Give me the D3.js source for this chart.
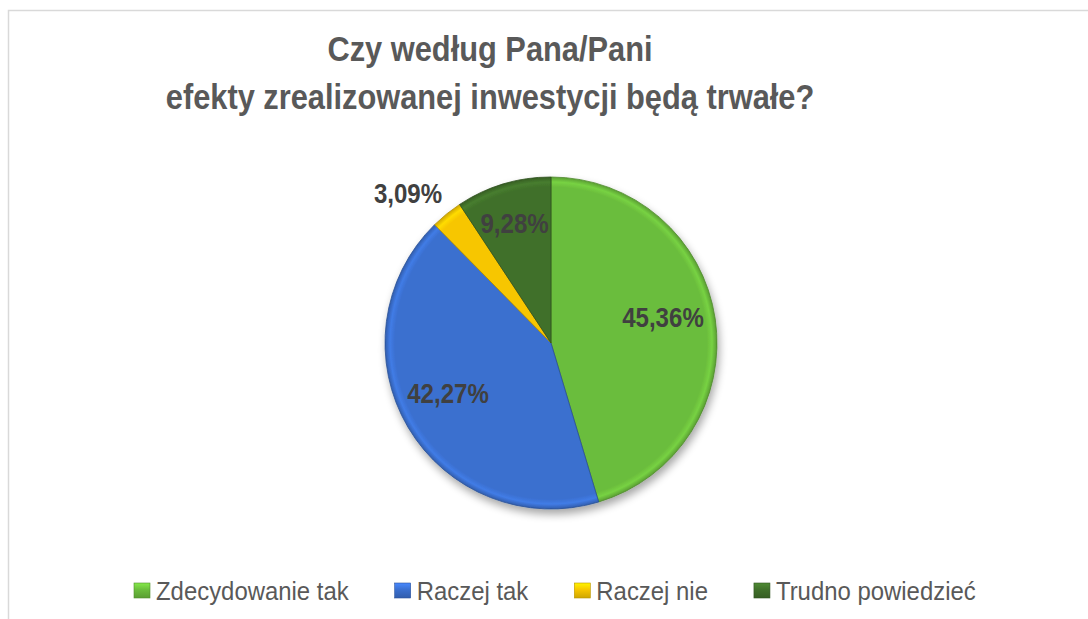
<!DOCTYPE html>
<html>
<head>
<meta charset="utf-8">
<script src="https://cdn.jsdelivr.net/npm/d3@7"></script>
<style>
  body { margin: 0; background: #fff; }
  svg { display: block; }
  text { font-family: "Liberation Sans", Arial, sans-serif; }
</style>
</head>
<body>
<svg id="chart" width="1088" height="619"></svg>
<script>
const categories = ["Zdecydowanie tak", "Raczej tak", "Raczej nie", "Trudno powiedzieć"];
const values = [45.36, 42.27, 3.09, 9.28];
const labels = ["45,36%", "42,27%", "3,09%", "9,28%"];
const colors = ["#6bbd3c", "#3a6fcf", "#f7c600", "#40702a"];
const titleLines = ["Czy według Pana/Pani", "efekty zrealizowanej inwestycji będą trwałe?"];

const W = 1088, H = 619;
const CX = 551, CY = 343, R = 166;
const NARROW = 0.86;
const svg = d3.select("#chart");

// frame
svg.append("path")
  .attr("d", `M8.5,${H} L8.5,10.5 L${W},10.5`)
  .attr("fill", "none").attr("stroke", "#d9d9d9").attr("stroke-width", 1.5);

const defs = svg.append("defs");
let shadow = defs.append("filter").attr("id", "shadow")
  .attr("x", "-20%").attr("y", "-20%").attr("width", "140%").attr("height", "140%");
shadow.append("feGaussianBlur").attr("in", "SourceAlpha").attr("stdDeviation", 4);
shadow.append("feOffset").attr("dx", 2).attr("dy", 5).attr("result", "b");
shadow.append("feComponentTransfer").append("feFuncA").attr("type", "linear").attr("slope", 0.35);
let m = shadow.append("feMerge");
m.append("feMergeNode");
m.append("feMergeNode").attr("in", "SourceGraphic");

colors.forEach((c, i) => {
  let g = defs.append("radialGradient").attr("id", "grad" + i)
    .attr("gradientUnits", "userSpaceOnUse")
    .attr("cx", 0).attr("cy", 0).attr("r", R);
  g.append("stop").attr("offset", "0%").attr("stop-color", c);
  g.append("stop").attr("offset", "94%").attr("stop-color", c);
  g.append("stop").attr("offset", "97%").attr("stop-color", d3.color(c).brighter(0.3));
  g.append("stop").attr("offset", "100%").attr("stop-color", d3.color(c).darker(0.5));
  // legend swatch
  let lg = defs.append("linearGradient").attr("id", "lg" + i)
    .attr("x1", 0).attr("y1", 0).attr("x2", 0).attr("y2", 1);
  lg.append("stop").attr("offset", "0%").attr("stop-color", d3.color(c).brighter(0.6));
  lg.append("stop").attr("offset", "45%").attr("stop-color", c);
  lg.append("stop").attr("offset", "100%").attr("stop-color", d3.color(c).darker(0.5));
});

// narrow text: horizontal squeeze around its anchor point
function narrowText(sel, x, y, scale) {
  return sel.attr("transform", `translate(${x},${y}) scale(${scale},1)`);
}

// title
titleLines.forEach((line, i) => {
  narrowText(svg.append("text"), 490, 61 + i * 48, 0.88)
    .attr("text-anchor", "middle")
    .attr("fill", "#595959")
    .attr("font-weight", "bold")
    .attr("font-size", 35)
    .text(line);
});

// pie
const pie = d3.pie().sort(null).value(d => d.v);
const data = pie(values.map((v, i) => ({ v, i })));
const arc = d3.arc().innerRadius(0).outerRadius(R);
const inner = d3.arc().innerRadius(R * 0.7).outerRadius(R * 0.7);

const pg = svg.append("g").attr("transform", `translate(${CX},${CY})`);
pg.append("g").attr("filter", "url(#shadow)")
  .selectAll("path").data(data).join("path")
  .attr("d", arc)
  .attr("fill", d => `url(#grad${d.data.i})`)
  .attr("stroke", d => d3.color(colors[d.data.i]).darker(0.9))
  .attr("stroke-width", 0.8)
  .attr("stroke-linejoin", "round");

// data labels
pg.selectAll("text.lbl").data(data).join("text")
  .attr("class", "lbl")
  .attr("font-weight", "bold")
  .attr("font-size", 28)
  .attr("fill", "#404040")
  .attr("dy", "0.35em")
  .each(function (d) {
    let t = d3.select(this);
    if (d.data.v < 5) {
      let a = (d.startAngle + d.endAngle) / 2;
      let r = R * 1.1;
      narrowText(t, Math.sin(a) * r + 6, -Math.cos(a) * r - 8, NARROW).attr("text-anchor", "end");
    } else {
      let [x, y] = inner.centroid(d);
      narrowText(t, x - 3, y - 9, NARROW).attr("text-anchor", "middle");
    }
  })
  .text(d => labels[d.data.i]);

// legend
const lgd = svg.append("g");
const LS = 0.92;
let x = 134;
categories.forEach((c, i) => {
  lgd.append("rect").attr("x", x).attr("y", 583).attr("width", 16).attr("height", 15)
    .attr("fill", `url(#lg${i})`).attr("stroke", d3.color(colors[i]).darker(0.8)).attr("stroke-width", 0.6);
  let t = narrowText(lgd.append("text"), x + 22, 600, LS)
    .attr("font-size", 26).attr("fill", "#595959")
    .text(c);
  x += 22 + t.node().getComputedTextLength() * LS + 46;
});
</script>
</body>
</html>
